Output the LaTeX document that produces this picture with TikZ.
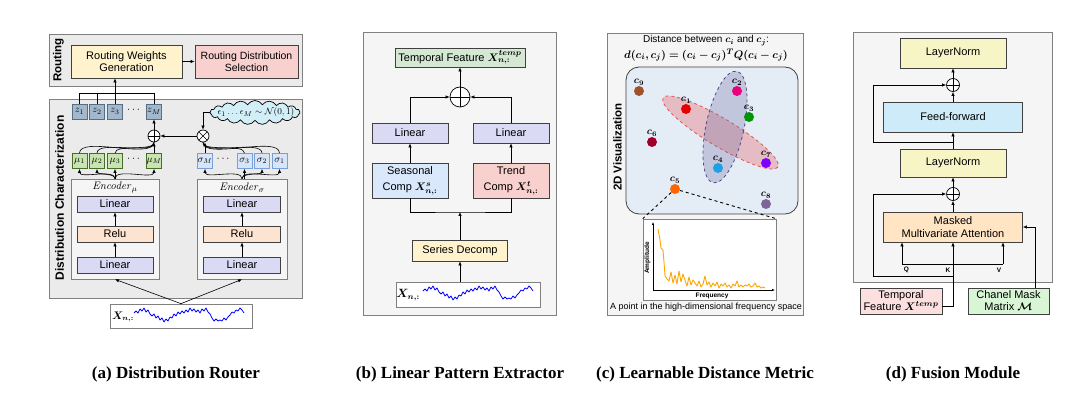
\documentclass[tikz,border=0pt]{standalone}
\usepackage{amsmath,amssymb}
\usepackage{bm}
\usepackage[no-math]{fontspec}
\setmainfont{Liberation Sans}
\newfontfamily\capfont{Liberation Serif}
\usepackage{tikz}
\usetikzlibrary{arrows.meta,positioning,shapes,calc}
\definecolor{panelgray}{RGB}{245,245,245}
\definecolor{routegray}{RGB}{235,235,235}
\definecolor{framegray}{RGB}{128,128,128}
\definecolor{lavender}{RGB}{218,218,245}
\definecolor{peach}{RGB}{252,228,208}
\definecolor{lightyellow}{RGB}{255,243,205}
\definecolor{lightpink}{RGB}{248,208,206}
\definecolor{zfill}{RGB}{163,184,204}
\definecolor{zdraw}{RGB}{84,110,134}
\definecolor{mufill}{RGB}{200,228,176}
\definecolor{mudraw}{RGB}{70,110,40}
\definecolor{sigfill}{RGB}{214,230,248}
\definecolor{sigdraw}{RGB}{120,160,215}
\definecolor{cloudfill}{RGB}{210,238,246}
\definecolor{featgreen}{RGB}{213,232,212}
\definecolor{seasblue}{RGB}{218,232,252}
\definecolor{vizblue}{RGB}{228,236,246}
\definecolor{normyellow}{RGB}{247,245,198}
\definecolor{ffblue}{RGB}{205,235,248}
\definecolor{attnorange}{RGB}{255,229,196}
\definecolor{tfpink}{RGB}{252,224,224}
\definecolor{maskgreen}{RGB}{216,246,214}
\definecolor{ellred}{RGB}{232,80,80}
\definecolor{ellpurple}{RGB}{80,75,140}
\definecolor{specorange}{RGB}{255,165,0}
\definecolor{cone}{RGB}{230,0,0}
\definecolor{ctwo}{RGB}{230,0,126}
\definecolor{cthree}{RGB}{0,150,0}
\definecolor{cfour}{RGB}{30,160,230}
\definecolor{cfive}{RGB}{255,102,0}
\definecolor{csix}{RGB}{160,0,40}
\definecolor{cseven}{RGB}{127,0,255}
\definecolor{ceight}{RGB}{128,102,150}
\definecolor{cnine}{RGB}{160,82,45}

\newcommand{\tspts}{(2,-4),(4,-2),(6,-6),(8,-4),(10,-7),(12,-3),(14,-5),(16,-1),(18,1),(20,-1),(22,3),(24,1),(26,5),(28,3),(30,7),(32,4),(34,6),(36,2),(38,3),(40,-1),(42,1),(44,-3),(46,-1),(48,-4),(50,-2),(52,-5),(54,-3),(56,-7),(58,-4),(60,-6),(62,-3),(64,-5),(66,-2),(68,-6),(70,-4),(72,-7),(74,-3),(76,-1),(78,3),(80,6),(82,4),(84,6),(86,5),(88,6),(90,3),(92,5),(94,2),(96,0),(98,-3),(100,-2),(102,-5),(104,-4),(106,-7),(108,-5),(110,-2)}

\tikzset{
  panelframe/.style={draw=framegray, line width=0.9pt},
  blk/.style={draw=black!75, line width=0.7pt, align=center, inner sep=1pt},
  linbox/.style={blk, fill=lavender},
  relubox/.style={blk, fill=peach},
  tok/.style={blk, minimum width=15pt, minimum height=15pt, inner sep=0pt, font=\fontsize{10}{11}\selectfont},
  zbox/.style={tok, fill=zfill, draw=zdraw},
  mubox/.style={tok, fill=mufill, draw=mudraw},
  sigbox/.style={tok, fill=sigfill, draw=sigdraw},
  encbox/.style={draw=gray, fill=panelgray, line width=0.7pt},
  arr/.style={-{Latex[length=4pt,width=3.4pt]}, line width=0.6pt},
  wire/.style={line width=0.6pt},
  addop/.style={circle, draw, line width=0.7pt, fill=white, minimum size=#1, inner sep=0pt,
    path picture={\draw[line width=0.7pt] (path picture bounding box.north) -- (path picture bounding box.south)
      (path picture bounding box.west) -- (path picture bounding box.east);}},
  addop/.default=12pt,
  mulop/.style={circle, draw, line width=0.7pt, fill=white, minimum size=12pt, inner sep=0pt,
    path picture={\draw[line width=0.7pt] (path picture bounding box.north west) -- (path picture bounding box.south east)
      (path picture bounding box.north east) -- (path picture bounding box.south west);}},
  vlab/.style={rotate=90, font=\bfseries\fontsize{11.5}{13}\selectfont},
  tsline/.style={blue, line width=0.8pt, line join=round},
  cpt/.style={circle, inner sep=0pt, minimum size=10pt},
  ptlab/.style={font=\fontsize{10}{11}\selectfont, inner sep=0.5pt},
  smallbold/.style={font=\bfseries\fontsize{6.5}{7}\selectfont, inner sep=0pt},
  subcap/.style={font=\capfont\bfseries\fontsize{17}{19}\selectfont},
}

\begin{document}
\begin{tikzpicture}[x=1pt, y=-1pt, font=\fontsize{11}{12.5}\selectfont]
\useasboundingbox (0,0) rectangle (1080,393);

% (a) distribution router
\draw[panelframe, fill=routegray] (49,34) rectangle (302,86);
\node[vlab] (routlab) at (58.5,60) {Routing};
\node[blk, fill=lightyellow, minimum width=111pt, minimum height=33pt] (rwg) at (126.5,61.5) {Routing Weights\\Generation};
\node[blk, fill=lightpink, minimum width=103pt, minimum height=33pt, font=\fontsize{10.5}{12}\selectfont] (rds) at (246.5,61.5) {Routing Distribution\\Selection};
\draw[arr] (rwg) -- (rds);

\draw[panelframe, fill=routegray] (49,99) rectangle (302,298);
\node[vlab, font=\bfseries\fontsize{12}{14}\selectfont] (dclab) at (59.5,198) {Distribution Characterization};

\node[zbox] (z1) at (79.5,111.5) {$z_1$};
\node[zbox] (z2) at (97,111.5) {$z_2$};
\node[zbox] (z3) at (115,111.5) {$z_3$};
\node (zdots) at (134.5,110) {$\cdots$};
\node[zbox] (zM) at (154,111.5) {$z_M$};
\coordinate (zbus) at (115,93);
\draw[wire] (z1.north) |- (zM.north |- zbus) -- (zM.north);
\draw[wire] (z2.north) -- (z2.north |- zbus);
\draw[arr] (z3.north) -- (z3.north |- rwg.south);

\node[addop] (addz) at (154,136) {};
\node[mulop] (mulz) at (203,136) {};
\node[cloud, cloud puffs=19, cloud puff arc=120, cloud ignores aspect, draw, fill=cloudfill, line width=0.7pt,
      minimum width=90pt, minimum height=24pt, inner sep=0pt] (eps) at (255,112.5) {};
\node[font=\fontsize{9.5}{11}\selectfont, inner sep=0pt] (epstxt) at (256,112.5) {$\epsilon_1\ldots\epsilon_M\sim\mathcal{N}(0,1)$};
\draw[arr] (eps.west) -| (mulz.north);
\draw[arr] (mulz) -- (addz);
\draw[arr] (addz) -- (zM);

\node[mubox] (mu1) at (79.5,161) {$\mu_1$};
\node[mubox] (mu2) at (97,161) {$\mu_2$};
\node[mubox] (mu3) at (115,161) {$\mu_3$};
\node (mudots) at (134.5,159.5) {$\cdots$};
\node[mubox] (muM) at (154,161) {$\mu_M$};
\node[sigbox] (sigM) at (205,161) {$\sigma_M$};
\node (sigdots) at (224,159.5) {$\cdots$};
\node[sigbox] (sig3) at (244.5,161) {$\sigma_3$};
\node[sigbox] (sig2) at (262,161) {$\sigma_2$};
\node[sigbox] (sig1) at (279.5,161) {$\sigma_1$};

\node[encbox, minimum width=88pt, minimum height=100pt] (encmu) at (115,229) {};
\node[font=\fontsize{11}{12}\selectfont] (encmulab) at (115,187.5) {$\mathit{Encoder}_\mu$};
\node[linbox, minimum width=76pt, minimum height=16pt] (lmu2) at (115,204) {Linear};
\node[relubox, minimum width=76pt, minimum height=16pt] (rmu) at (115,234) {Relu};
\node[linbox, minimum width=76pt, minimum height=16pt] (lmu1) at (115,265) {Linear};
\draw[arr] (lmu1) -- (rmu);
\draw[arr] (rmu) -- (lmu2);

\node[encbox, minimum width=90pt, minimum height=100pt] (encsig) at (242,229) {};
\node[font=\fontsize{11}{12}\selectfont] (encsiglab) at (242,187.5) {$\mathit{Encoder}_\sigma$};
\node[linbox, minimum width=77pt, minimum height=16pt] (lsig2) at (242,204) {Linear};
\node[relubox, minimum width=77pt, minimum height=16pt] (rsig) at (242,234) {Relu};
\node[linbox, minimum width=77pt, minimum height=16pt] (lsig1) at (242,265) {Linear};
\draw[arr] (lsig1) -- (rsig);
\draw[arr] (rsig) -- (lsig2);

\foreach \m in {mu1,mu2,muM}
  \draw[arr] (encmu.north) to[out=90,in=-90,looseness=0.7] (\m.south);
\draw[arr] (encmu.north) -- (mu3.south);
\foreach \m in {sigM,sig2,sig1}
  \draw[arr] (encsig.north) to[out=90,in=-90,looseness=0.7] (\m.south);
\draw[arr] (sig3.south |- encsig.north) -- (sig3.south);
\foreach \m in {mu1,mu2,mu3}
  \draw[wire] (\m.north) to[out=90,in=-90,looseness=0.6] (addz.south);
\draw[arr] (muM.north) -- (addz.south);
\foreach \m in {sig3,sig2,sig1}
  \draw[wire] (\m.north) to[out=90,in=-90,looseness=0.6] (mulz.south);
\draw[arr] (sigM.north) -- (mulz.south -| sigM.north);

\node[blk, fill=white, draw=gray, minimum width=142pt, minimum height=24pt] (xa) at (181,316) {};
\node[font=\fontsize{10.5}{11}\selectfont] (xalab) at (123,317) {$\bm{X_{n,:}}$};
\draw[tsline, shift={(134,315)}] (0,-2) \foreach \pp in \tspts {-- \pp};
\draw[arr] (xa.north) -- (encmu.south);
\draw[arr] (xa.north) -- (encsig.south);

% (b) linear pattern extractor
\draw[panelframe, fill=panelgray] (363,32) rectangle (556,315);
\node[blk, fill=featgreen, minimum width=130pt, minimum height=19pt] (tfb) at (460,57.5) {Temporal Feature $\bm{X_{n,:}^{temp}}$};
\node[addop=20pt] (addb) at (460,97) {};
\node[linbox, minimum width=76pt, minimum height=20pt] (linl) at (410,133) {Linear};
\node[linbox, minimum width=76pt, minimum height=20pt] (linr) at (511,133) {Linear};
\node[blk, fill=seasblue, minimum width=76pt, minimum height=35pt, font=\fontsize{11}{13}\selectfont] (seas) at (410,180.5) {Seasonal\\[3pt]Comp $\bm{X_{n,:}^{s}}$};
\node[blk, fill=lightpink, minimum width=76pt, minimum height=35pt, font=\fontsize{11}{13}\selectfont] (trend) at (511,180.5) {Trend\\[3pt]Comp $\bm{X_{n,:}^{t}}$};
\coordinate (bbus) at (460,212);
\node[blk, fill=lightyellow, minimum width=95pt, minimum height=21pt] (sdec) at (460,250.5) {Series Decomp};
\node[blk, fill=white, draw=gray, minimum width=144pt, minimum height=25pt] (xb) at (468,294.5) {};
\node[font=\fontsize{12}{13}\selectfont] (xblab) at (408,295.5) {$\bm{X_{n,:}}$};
\draw[tsline, shift={(423,293)}] (0,-2) \foreach \pp in \tspts {-- \pp};
\draw[arr] (xb.north -| sdec.south) -- (sdec.south);
\draw[arr] (sdec) -- (bbus);
\draw[wire] (seas.south) |- (bbus) -| (trend.south);
\draw[arr] (seas) -- (linl);
\draw[arr] (trend) -- (linr);
\draw[arr] (linl.north) |- (addb.west);
\draw[arr] (linr.north) |- (addb.east);
\draw[arr] (addb) -- (tfb);

% (c) learnable distance metric
\draw[panelframe, fill=panelgray] (607,33) rectangle (803,315);
\node[font=\fontsize{10}{11}\selectfont] (dtitle) at (706,40.5) {Distance between $\bm{c_i}$ and $\bm{c_j}$:};
\node[font=\fontsize{11}{12}\selectfont] (dform) at (706,55) {$\bm{d(c_i,c_j)=(c_i-c_j)^TQ(c_i-c_j)}$};
\draw[draw=black!75, line width=0.8pt, fill=vizblue, rounded corners=13pt] (626,67) rectangle (798,214);
\node[vlab] (vizlab) at (617.5,147) {2D Visualization};
\draw[dashed, draw=ellred, fill=ellred, fill opacity=0.3, line width=0.8pt, rotate around={-31:(720.5,132.5)}]
  (720.5,132.5) ellipse [x radius=67, y radius=14];
\draw[dashed, draw=ellpurple, fill=ellpurple!80, fill opacity=0.3, line width=0.8pt, rotate around={-12:(725,127)}]
  (725,127) ellipse [x radius=19, y radius=57];
\node[cpt, fill=cnine, label={[ptlab]above:$\bm{c_9}$}] (c9) at (639,91) {};
\node[cpt, fill=cone, label={[ptlab]above:$\bm{c_1}$}] (c1) at (686,109) {};
\node[cpt, fill=ctwo, label={[ptlab]above:$\bm{c_2}$}] (c2) at (737,91) {};
\node[cpt, fill=cthree, label={[ptlab]above:$\bm{c_3}$}] (c3) at (749,117) {};
\node[cpt, fill=csix, label={[ptlab]above:$\bm{c_6}$}] (c6) at (652,142) {};
\node[cpt, fill=cfour, label={[ptlab]above:$\bm{c_4}$}] (c4) at (718,168) {};
\node[cpt, fill=cseven, label={[ptlab]above:$\bm{c_7}$}] (c7) at (766,163) {};
\node[cpt, fill=cfive, label={[ptlab]above:$\bm{c_5}$}] (c5) at (675,189) {};
\node[cpt, fill=ceight, label={[ptlab]above:$\bm{c_8}$}] (c8) at (766,204) {};
\node[draw=gray, fill=white, line width=0.6pt, minimum width=133pt, minimum height=81pt, inner sep=0pt] (inset) at (709.5,259.5) {};
\draw[dashed, line width=0.9pt] (c5) -- (inset.north west);
\draw[dashed, line width=0.9pt] (c5) -- (inset.north east);
\coordinate (orig) at (653,290);
\coordinate (ytop) at (653,222);
\coordinate (xend) at (775,290);
\draw[-{Latex[length=3pt,width=2.5pt]}, line width=0.6pt] (orig) -- (ytop);
\draw[-{Latex[length=3pt,width=2.5pt]}, line width=0.6pt] (orig) -- (xend);
\node[smallbold, rotate=90] (amp) at (647.5,258) {Amplitude};
\node[smallbold] (freq) at (712,295.5) {Frequency};
\draw[specorange, line width=0.9pt, line join=round] (658,229) \foreach \pp in {(660,240),(661,248),(663,250),(664,262),(665,276),(667,279),(669,281),(671,272),(673,283),(675,275),(677,284),(679,271),(681,282),(683,274),(685,280),(687,286),(689,277),(691,285),(693,280),(695,283),(697,286),(699,281),(701,287),(703,284),(705,276),(707,285),(709,282),(711,287),(713,283),(715,286),(717,282),(719,288),(721,284),(723,286),(725,283),(727,287),(729,285),(731,288),(733,284),(735,286),(737,281),(739,287),(741,285),(743,287),(745,285),(747,286),(749,284),(751,287),(753,286),(755,283),(757,287),(759,286),(761,288),(763,287),(765,288)} {-- \pp};
\node[font=\fontsize{9}{10}\selectfont] (ptcap) at (706,307.5) {A point in the high-dimensional frequency space};

% (d) fusion module
\draw[panelframe, fill=panelgray] (853,32) rectangle (1052,282);
\node[blk, fill=normyellow, minimum width=106pt, minimum height=30pt] (ln1) at (953,53) {LayerNorm};
\node[addop=13pt] (add2) at (953,85) {};
\node[blk, fill=ffblue, minimum width=139pt, minimum height=30pt] (ff) at (953,117) {Feed-forward};
\node[blk, fill=normyellow, minimum width=106pt, minimum height=28pt] (ln2) at (953,163) {LayerNorm};
\node[addop=13pt] (add1) at (953,194) {};
\node[blk, fill=attnorange, minimum width=139pt, minimum height=30pt] (attn) at (953,227) {Masked\\Multivariate Attention};
\draw[arr] (attn) -- (add1);
\draw[arr] (add1) -- (ln2);
\draw[arr] (ln2) -- (ff);
\draw[arr] (ff) -- (add2);
\draw[arr] (add2) -- (ln1);
\coordinate (res2) at (873,142);
\draw[arr] (res2 -| ff.south) -- (res2) |- (add2.west);
\coordinate (res1) at (873,276);
\coordinate (qq) at (902,264);
\coordinate (kk) at (953,264);
\coordinate (vv) at (1003,264);
\draw[wire] (qq) -- (vv);
\foreach \c in {qq,kk,vv}
  \draw[arr] (\c) -- (\c |- attn.south);
\node[smallbold] (qtxt) at (906.5,270) {Q};
\node[smallbold] (ktxt) at (948,270) {K};
\node[smallbold] (vtxt) at (999,270) {V};
\node[blk, fill=tfpink, minimum width=82pt, minimum height=26pt, font=\fontsize{11}{12}\selectfont] (tfd) at (901,301) {Temporal\\Feature $\bm{X^{temp}}$};
\node[blk, fill=maskgreen, minimum width=81pt, minimum height=26pt, font=\fontsize{11}{12}\selectfont] (cmm) at (1008.5,301) {Chanel Mask\\Matrix $\bm{\mathcal{M}}$};
\draw[wire] ([yshift=-5pt]tfd.east) -| (kk);
\draw[arr] (res1 -| kk) -- (res1) |- (add1.west);
\draw[arr] ([xshift=26.5pt]cmm.north) |- (attn.east);

% captions
\node[subcap] (capa) at (176,374) {(a) Distribution Router};
\node[subcap] (capb) at (460,374) {(b) Linear Pattern Extractor};
\node[subcap] (capc) at (705,374) {(c) Learnable Distance Metric};
\node[subcap] (capd) at (953,374) {(d) Fusion Module};
\end{tikzpicture}
\end{document}
